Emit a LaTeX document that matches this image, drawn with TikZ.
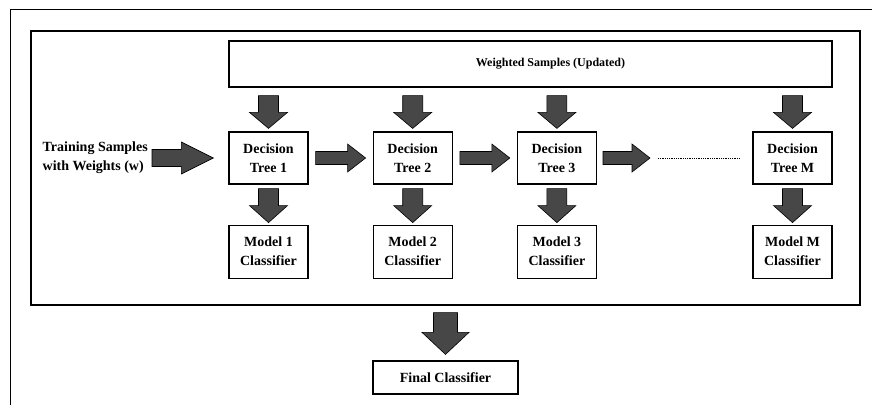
\documentclass[tikz,border=0pt]{standalone}
\usepackage{fontspec}
\setmainfont{Liberation Serif}
\usetikzlibrary{calc,positioning}

\tikzset{
  box/.style={draw, line width=1.2pt, fill=white, minimum width=79pt, minimum height=52pt,
    align=center, inner sep=2pt, font=\fontsize{14}{19}\selectfont\bfseries},
  fatarr/.style={fill=black!72, draw=black, line width=0.6pt, line join=miter},
}

% block arrow: from, to, start gap, end gap, shaft half width, head half width, head length
\newcommand{\fatarrow}[7]{%
  \path ($(#1)!#3!(#2)$) coordinate (fa-s)
        ($(#2)!#4!(#1)$) coordinate (fa-e);
  \path ($(fa-e)!#7!(fa-s)$) coordinate (fa-h);
  \draw[fatarr] ($(fa-s)!#5!90:(fa-e)$) -- ($(fa-h)!#5!90:(fa-e)$)
    -- ($(fa-h)!#6!90:(fa-e)$) -- (fa-e) -- ($(fa-h)!#6!-90:(fa-e)$)
    -- ($(fa-h)!#5!-90:(fa-e)$) -- ($(fa-s)!#5!-90:(fa-e)$) -- cycle;}

\begin{document}
\begin{tikzpicture}[x=1pt,y=-1pt]
\useasboundingbox (0,0) rectangle (872,405);

%% frames
\draw[line width=0.8pt] (10,405) -- (10,9) -- (872,9);
\node[draw, line width=1.2pt, minimum width=829pt, minimum height=274pt, inner sep=0] (ens) at (445.5,168) {};

%% boxes
\node[box, minimum width=603pt, minimum height=46pt,
  label={[font=\fontsize{12}{14}\selectfont\bfseries, xshift=20pt]center:Weighted Samples (Updated)}] (ws) at (530.5,64) {};

\node[box] (dt1) at (268.5,158) {Decision\\Tree 1};
\node[box, right=64pt of dt1] (dt2) {Decision\\Tree 2};
\node[box, right=64pt of dt2] (dt3) {Decision\\Tree 3};
\node[box] (dtm) at (792.5,158) {Decision\\Tree M};

\node[box, minimum height=53pt, below=40pt of dt1] (m1) {Model 1\\Classifier};
\node[box, minimum height=53pt, below=40pt of dt2] (m2) {Model 2\\Classifier};
\node[box, minimum height=53pt, below=40pt of dt3] (m3) {Model 3\\Classifier};
\node[box, minimum height=53pt, below=40pt of dtm] (mm) {Model M\\Classifier};

\node[box, minimum width=145pt, minimum height=33pt] (final) at (445.5,377.5) {Final Classifier};

\node[anchor=east, align=left, inner sep=0, font=\fontsize{14}{19}\selectfont\bfseries] (train) at (148,158) {Training Samples\\with Weights (w)};

\coordinate (dots1) at (658,158);
\coordinate (dots2) at (740,158);
\draw[densely dotted, line width=0.8pt] (dots1) -- (dots2);

%% arrows
\foreach \i in {1,2,3,m}{
  \fatarrow{dt\i |- ws.south}{dt\i.north}{8pt}{3pt}{10pt}{19pt}{16pt}
}
\foreach \i in {1,2,3,m}{
  \fatarrow{dt\i.south}{m\i.north}{4pt}{2pt}{10pt}{19pt}{17pt}
}
\fatarrow{train.east}{dt1.west}{4pt}{15pt}{8.5pt}{16pt}{32pt}
\fatarrow{dt1.east}{dt2.west}{7pt}{7pt}{6.5pt}{14pt}{18pt}
\fatarrow{dt2.east}{dt3.west}{7pt}{7pt}{6.5pt}{14pt}{18pt}
\fatarrow{dt3.east}{dots1}{6pt}{8pt}{6.5pt}{14pt}{18pt}
\fatarrow{ens.south -| final}{final.north}{7pt}{6pt}{12pt}{23.5pt}{22pt}
\end{tikzpicture}
\end{document}
